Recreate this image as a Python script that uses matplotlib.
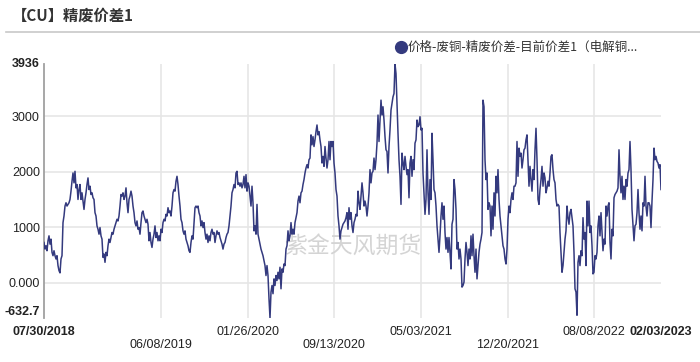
import numpy as np
import pandas as pd
import matplotlib
matplotlib.use("Agg")
import matplotlib.pyplot as plt

plt.rcParams['font.family'] = ['Liberation Sans', 'Noto Sans CJK SC', 'DejaVu Sans']

title = "【CU】精废价差1"
series_name = "价格-废铜-精废价差-目前价差1（电解铜..."
watermark = "紫金天风期货"

start_date = "2018-07-30"
end_date = "2023-02-03"

# values, left to right, evenly spaced in time
values = [
    726, 607, 667, 577, 756, 845, 696, 786, 548, 488, 577, 488, 429, 488, 310, 220, 179, 429, 488, 1083,
    1202, 1381, 1440, 1381, 1411, 1440, 1500, 1649, 1827, 1976, 1798, 2006, 1708, 1768, 1500, 1678, 1768, 1500, 1619, 1470,
    1321, 1500, 1619, 1768, 1887, 1678, 1738, 1589, 1619, 1530, 1500, 1262, 1202, 1024, 964, 875, 994, 845, 786, 458,
    518, 369, 548, 488, 667, 786, 726, 815, 905, 875, 964, 1024, 1083, 1143, 1113, 1202, 1381, 1589, 1560, 1619,
    1500, 1560, 1708, 1440, 1262, 1500, 1560, 1649, 1560, 1381, 1262, 1083, 1024, 1113, 964, 994, 875, 1083, 1262, 1292,
    1202, 1143,
    1083, 1143, 1054, 756, 905, 726, 637, 786, 875, 1024, 815, 905, 756, 845, 756, 964, 905, 1083, 1143, 1113,
    1232, 1202, 1351, 1262, 1292, 1202, 1381, 1619, 1678, 1649, 1827, 1916, 1768, 1560, 1381, 1143, 1083, 935, 875, 935,
    786, 726, 667, 577, 548, 726, 845, 786, 1083, 1351, 1381, 1351, 1381, 1262, 1202, 1024, 1113, 994, 1083, 905,
    786, 875, 726, 845, 756, 905, 964, 875, 905, 726, 845, 935, 875, 905, 815, 756, 696, 607, 696, 726,
    815, 875, 905, 1024, 1202, 1381, 1619, 1678, 1768, 1708, 1976, 2006, 1768, 1798, 1738, 1798, 1708, 1768, 1916, 1708,
    1946, 1649, 1798,
    1738, 1560, 1381, 1738, 1440, 935, 1024, 875, 1411, 875, 786, 696, 607, 548, 488, 399, 310, 131, 310, 131,
    -286, -632.7, -167, -48, -196, 71, -48, 131, 42, 190, 71, 280, -107, 250, 190, 339, 310, 607, 667, 935,
    756, 845, 1083, 875, 964, 875, 1083, 1172, 1262, 1470, 1560, 1440, 1619, 1649, 1768, 1857, 1976, 2065, 2125, 2065,
    2214, 2244, 2661, 2482, 2631, 2452, 2571, 2720, 2839, 2661, 2720, 2571, 2452, 2155, 2274, 2095, 2452, 2244, 2065, 2214,
    2542, 2214, 2542, 2452, 2542, 2155, 1976, 1678, 1560, 1202, 1024, 786, 935, 994, 1054, 1083, 1113, 1172, 1262, 964,
    1351, 1143, 1262,
    1024, 905, 1083, 1143, 1232, 1202, 1649, 1440, 1321, 1560, 1798, 1619, 1381, 1470, 1381, 1202, 1381, 1619, 2036, 1798,
    1976, 2006, 2244, 2036, 2214, 2512, 3018, 2542, 2928, 3286, 3018, 3167, 2928, 2631, 2393, 2363, 1976, 2452, 2750, 3107,
    3226, 3345, 3405, 3936, 3762, 3226, 2690, 2214, 1916, 1411, 2333, 2155, 2036, 2274, 2095, 1946, 2036, 1530, 2155, 2274,
    1916, 2214, 2036, 2512, 2571, 2928, 2809, 2839, 2988, 2750, 2780, 1976, 1619, 1232, 1500, 2393, 1619, 1232, 1857, 1500,
    2690, 2214, 1678, 1619, 1381, 1024, 786, 548, 845, 1202, 1440, 1143, 1381, 905, 607, 815, 548, 815, 548, 250,
    1054, 1143, 1857,
    1678, 1321, 607, 726, 429, 607, 429, -77, -48, 12, 429, 726, 548, 310, 607, 429, 845, 488, 875, 488,
    190, 607, 71, 310, 548, 696, 786, 905, 3286, 3167, 2214, 1857, 1976, 1321, 1440, 1381, 845, 1381, 964, 1619,
    1202, 1916, 1619, 2036, 1500, 1202, 1024, 845, 667, 607, 429, 339, 607, 1143, 1381, 1262, 1500, 1619, 1500, 1738,
    1738, 1798, 2542, 1916, 2423, 2274, 2333, 2065, 2214, 2393, 2423, 2571, 2661, 2214, 1738, 2095, 1857, 1649, 2036, 1857,
    2393, 2780, 2214, 1500, 1411, 1678, 1857, 2095, 1738, 1976, 1887, 1619, 1708, 1827, 1738, 1976, 2274, 2304, 2036, 1857,
    1798, 1500, 1381,
    1411, 1381, 905, 548, 190, 310, 548, 786, 935, 1381, 1172, 1054, 1262, 1321, 1172, 1024, 548, -107, -167, -583,
    369, 488, 310, 577, 488, 1172, 786, 905, 310, 1470, 1024, 1470, 905, 1024, 667, 161, 190, 488, 429, 548,
    1024, 1202, 845, 1262, 905, 577, 786, 696, 1381, 1202, 1381, 1440, 726, 429, 964, 845, 1530, 1589, 1619, 1649,
    1708, 2393, 1916, 1619, 1916, 1500, 1738, 1500, 1857, 1738, 1976, 2036, 2542, 2036, 1321, 1024, 756, 1024, 1054, 1262,
    1678, 1262, 964, 1202, 935, 1440, 1381, 1916, 1381, 1202, 1440, 1440, 1381, 994, 1470, 1857, 2423, 2214, 2274, 2184,
    2155, 2065, 2125, 1678,
]

tick_dates = ["2018-07-30", "2019-06-08", "2020-01-26", "2020-09-13",
              "2021-05-03", "2021-12-20", "2022-08-08", "2023-02-03"]
tick_labels = ["07/30/2018", "06/08/2019", "01/26/2020", "09/13/2020",
               "05/03/2021", "12/20/2021", "08/08/2022", "02/03/2023"]

dates = pd.date_range(start_date, end_date, periods=len(values))
vals = np.array(values, dtype=float)
tdates = pd.to_datetime(tick_dates)

line_color = "#343a7e"
grid_color = "#e6e6e6"

fig = plt.figure(figsize=(7.0, 3.62), dpi=100)
ax = fig.add_axes([44 / 700, 1 - 318 / 362, (661 - 44) / 700, (318 - 64) / 362])

ymin, ymax = vals.min(), vals.max()
ax.set_xlim(dates[0], dates[-1])
ax.set_ylim(ymin, ymax)

# grid
for yv in [0, 1000, 2000, 3000]:
    ax.axhline(yv, color=grid_color, lw=1.2, zorder=0)
for d in tdates[1:-1]:
    ax.axvline(d, color=grid_color, lw=1.2, zorder=0)

ax.text(0.5, 0.283, watermark, transform=ax.transAxes, fontsize=16.5,
        color="#d4d4d4", ha="center", va="center",
        family=['Noto Sans CJK SC', 'DejaVu Sans'], zorder=1)

ax.plot(dates, vals, color=line_color, lw=1.1, zorder=3)

for s in ["top", "right", "bottom"]:
    ax.spines[s].set_visible(False)
ax.spines["left"].set_color("#a0a0a0")
ax.spines["left"].set_linewidth(1.3)

# y ticks
yt = [ymin, 0, 1000, 2000, 3000, ymax]
ylabels = ["%.1f" % ymin, "0.000", "1000", "2000", "3000", "%d" % round(ymax)]
ax.set_yticks(yt)
ax.set_yticklabels(ylabels)
ax.tick_params(axis="y", length=0, pad=3, labelsize=9, labelcolor="#222222")
ylbl = ax.get_yticklabels()
ylbl[0].set_fontweight("bold")
ylbl[-1].set_fontweight("bold")
ylbl[0].set_va("bottom")
ylbl[-1].set_va("center")

# x ticks, two rows
row1 = [0, 2, 4, 6, 7]
row2 = [1, 3, 5]
ax.set_xticks([tdates[i] for i in row1])
ax.set_xticklabels([tick_labels[i] for i in row1])
ax.set_xticks([tdates[i] for i in row2], minor=True)
ax.set_xticklabels([tick_labels[i] for i in row2], minor=True)
ax.tick_params(axis="x", which="major", length=0, pad=6, labelsize=9, labelcolor="#222222")
ax.tick_params(axis="x", which="minor", length=0, pad=15, labelsize=9, labelcolor="#222222")
xl = ax.get_xticklabels()
xl[0].set_fontweight("bold")
xl[-1].set_fontweight("bold")

# header
fig.text(12 / 700, 1 - 16 / 362, title, fontsize=11, fontweight="bold", color="#333333",
         va="center", ha="left", family=['Noto Sans CJK SC', 'DejaVu Sans'])
fig.add_artist(plt.Line2D([6 / 700, 1], [1 - 32 / 362, 1 - 32 / 362],
                          color="#c8c8c8", lw=1.2, transform=fig.transFigure))

# legend
fig.lines.append(plt.Line2D([401 / 700], [1 - 47 / 362], marker="o", markersize=8.5,
                            color=line_color, transform=fig.transFigure))
fig.text(408 / 700, 1 - 47 / 362, series_name, fontsize=9, color="#333333",
         va="center", ha="left", family=['Noto Sans CJK SC', 'DejaVu Sans'])

fig.savefig("out.png", dpi=100)
